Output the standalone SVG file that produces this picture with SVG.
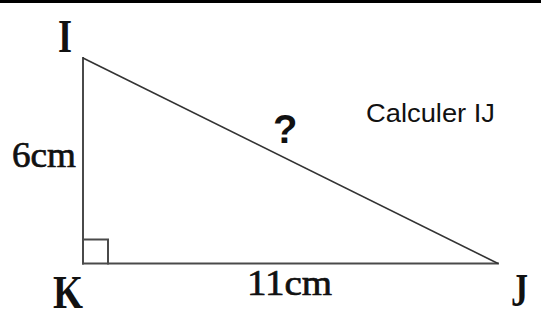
<svg xmlns="http://www.w3.org/2000/svg" width="541" height="327" viewBox="0 0 541 327">
<style>
.edge{stroke:#4a4a4a;stroke-width:2;fill:none;stroke-linecap:square}
.hyp{stroke:#333;stroke-width:1.6;fill:none}
.vlab{font-family:"Liberation Serif",serif;font-weight:bold;font-size:46px;fill:#111}
.len{font-family:"Liberation Serif",serif;font-size:36px;fill:#111;stroke:#111;stroke-width:0.7}
.sans{font-family:"Liberation Sans",Arial,sans-serif;fill:#111}
</style>
<rect x="0" y="0" width="541" height="327" fill="#fff"/>
<rect x="0" y="0" width="541" height="3" fill="#000"/>
<g id="connectors">
<line class="edge" x1="83" y1="58" x2="83" y2="263.5"/>
<line class="edge" x1="83" y1="263.5" x2="498" y2="263.5"/>
<line class="hyp" x1="83" y1="58" x2="498" y2="263.5"/>
<polyline class="edge" points="83,239.5 108,239.5 108,263.5"/>
</g>
<g id="I"><text class="vlab" x="58" y="52" textLength="14" lengthAdjust="spacingAndGlyphs">I</text></g>
<g id="K"><text class="vlab" x="53" y="308" textLength="30" lengthAdjust="spacingAndGlyphs">K</text></g>
<g id="J"><text class="vlab" x="511" y="306" font-size="51" textLength="17" lengthAdjust="spacingAndGlyphs">J</text></g>
<g id="label-6cm"><text class="len" x="12" y="167" textLength="64" lengthAdjust="spacingAndGlyphs">6cm</text></g>
<g id="label-11cm"><text class="len" x="247" y="295" textLength="85" lengthAdjust="spacingAndGlyphs">11cm</text></g>
<g id="label-q"><text class="sans" x="273" y="143" font-size="40" font-weight="bold">?</text></g>
<g id="title"><text class="sans" x="366" y="122" font-size="25" textLength="129" lengthAdjust="spacingAndGlyphs">Calculer IJ</text></g>
</svg>
